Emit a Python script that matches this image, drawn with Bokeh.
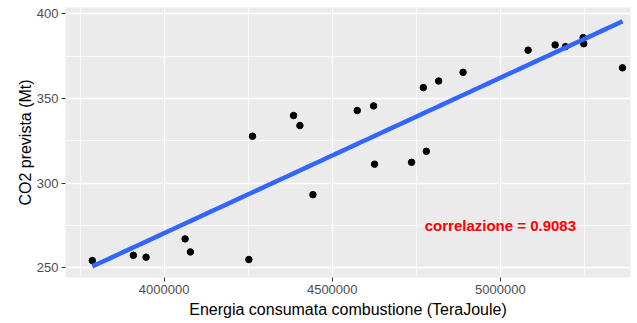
import numpy as np
from bokeh.plotting import figure
from bokeh.models import FixedTicker, BasicTickFormatter, Range1d, ColumnDataSource
from bokeh.core.properties import value
from bokeh.embed import file_html
from bokeh.resources import INLINE

# Data
energia = [3786607, 3908631, 3946429, 4062500, 4078274, 4252083, 4262897,
           4384921, 4403869, 4442560, 4574405, 4622917, 4625893, 4736012,
           4770833, 4779762, 4816369, 4888988, 5082440, 5162798, 5193452,
           5246131, 5247917, 5363095]
co2 = [254.3, 257.4, 256.3, 267.1, 259.4, 254.9, 327.7,
       339.9, 334.0, 293.2, 342.9, 345.6, 311.2, 312.3,
       356.4, 318.8, 360.3, 365.4, 378.5, 381.6, 380.6,
       385.9, 382.3, 368.1]
x_ticks = [4000000, 4500000, 5000000]
x_minor = [3750000, 4250000, 4750000, 5250000]
y_ticks = [250, 300, 350, 400]
y_minor = [275, 325, 375]
annot_x = [5000000]
annot_y = [275]
annot_text = ["correlazione = 0.9083"]

# Linear fit (like geom_smooth(method = "lm"))
xa = np.array(energia, dtype=float)
ya = np.array(co2, dtype=float)
slope, intercept = np.polyfit(xa, ya, 1)
fit_x = np.linspace(xa.min(), xa.max(), 80)
fit_y = slope * fit_x + intercept

p = figure(width=637, height=323, output_backend="svg", toolbar_location=None,
           x_range=Range1d(3706850, 5386905), y_range=Range1d(244.3, 403.7),
           min_border_left=65, min_border_right=7, min_border_top=7,
           min_border_bottom=46)

p.background_fill_color = "#EBEBEB"
p.border_fill_color = "white"
p.outline_line_color = None

p.xaxis.ticker = FixedTicker(ticks=x_ticks, minor_ticks=x_minor)
p.yaxis.ticker = FixedTicker(ticks=y_ticks, minor_ticks=y_minor)
p.xaxis.formatter = BasicTickFormatter(use_scientific=False)

for ax in (p.xaxis[0], p.yaxis[0]):
    ax.axis_line_color = None
    ax.major_tick_line_color = "#333333"
    ax.major_tick_line_width = 1
    ax.major_tick_in = 0
    ax.major_tick_out = 4
    ax.minor_tick_line_color = None
    ax.major_label_text_font = "Liberation Sans"
    ax.major_label_text_font_size = "13px"
    ax.major_label_text_color = "#4D4D4D"
    ax.axis_label_text_font = "Liberation Sans"
    ax.axis_label_text_font_size = "16px"
    ax.axis_label_text_font_style = "normal"
    ax.axis_label_text_color = "black"

p.xaxis.major_label_standoff = 3
p.xaxis.axis_label_standoff = 4
p.yaxis.major_label_standoff = 3
p.yaxis.axis_label_standoff = 0

p.xaxis.axis_label = "Energia consumata combustione (TeraJoule)"
p.yaxis.axis_label = "CO2 prevista (Mt)"

p.grid.grid_line_color = "white"
p.grid.grid_line_width = 1.3
p.grid.minor_grid_line_color = "white"
p.grid.minor_grid_line_width = 0.7

p.scatter(energia, co2, size=6.5, color="black")
p.line(fit_x, fit_y, line_color="#3366FF", line_width=4.5)

src = ColumnDataSource(dict(x=annot_x, y=annot_y, t=annot_text))
p.text(x="x", y="y", text="t", source=src, text_color="red",
       text_font=value("Liberation Sans"), text_font_style="bold",
       text_font_size="15px", text_align="center", text_baseline="middle")

open("out.html", "w").write(file_html(p, INLINE))
